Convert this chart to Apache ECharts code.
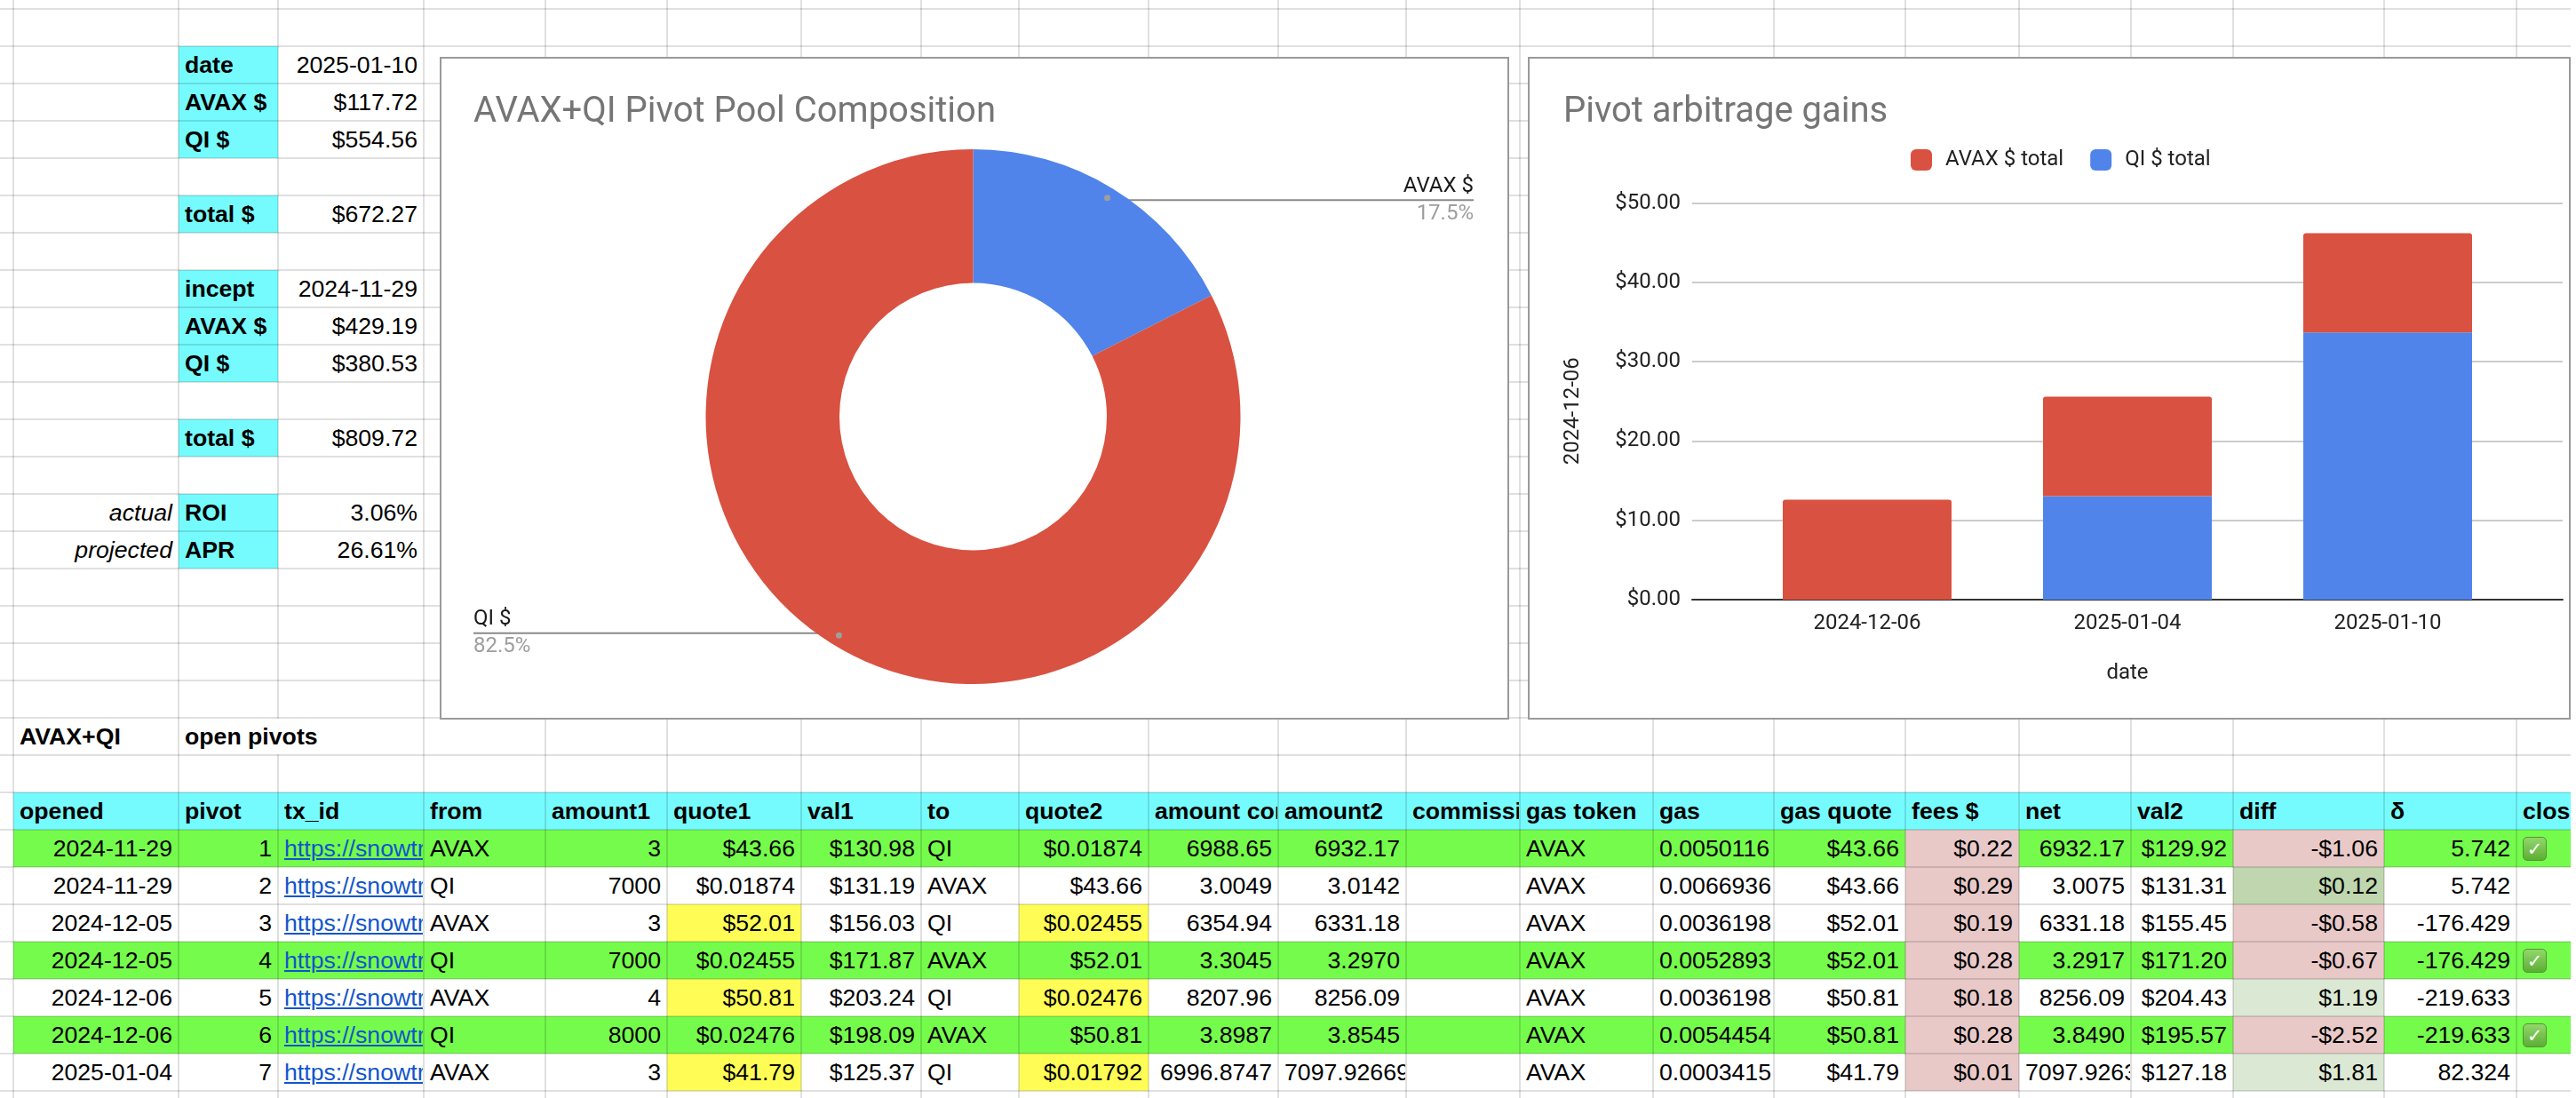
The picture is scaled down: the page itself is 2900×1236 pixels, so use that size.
<!DOCTYPE html>
<html>
<head>
<meta charset="utf-8">
<script src="https://cdn.jsdelivr.net/npm/echarts@6/dist/echarts.min.js"></script>
<style>
html,body{margin:0;padding:0;width:2900px;height:1236px;overflow:hidden;background:#fff;}
#sheet{position:absolute;left:0;top:0;width:2900px;height:1236px;font-family:Arial,"Liberation Sans",sans-serif;font-size:26.67px;color:#000;}
.fill{position:absolute;}
.hl{position:absolute;left:0;width:2900px;height:2px;background:rgba(0,0,0,0.12);}
.vl{position:absolute;top:0;width:2px;height:1236px;background:rgba(0,0,0,0.12);}
.cell{position:absolute;height:40px;line-height:41px;box-sizing:border-box;padding:0 6px;white-space:nowrap;overflow:hidden;}
.r{text-align:right;}
.b{font-weight:bold;}
.i{font-style:italic;}
.lnk{color:#1155cc;text-decoration:underline;}
.chk{position:absolute;width:27px;height:27px;box-sizing:border-box;border-radius:5px;border:1px solid #4c9a2a;background:linear-gradient(#93d66c,#5cae35);color:#fff;font-family:"DejaVu Sans",sans-serif;font-size:21px;line-height:26px;text-align:center;font-weight:bold;}
.chart{position:absolute;background:#fff;}
.frame{position:absolute;box-sizing:border-box;border:2px solid #9a9a9a;pointer-events:none;}
#edge{position:absolute;left:2894px;top:0;width:6px;height:1236px;background:#fff;}
</style>
</head>
<body>
<div id="sheet"></div>
<div id="edge"></div>
<div id="pie" class="chart" style="left:495px;top:64px;width:1204px;height:746px;"></div>
<div class="frame" style="left:495px;top:64px;width:1204px;height:746px;"></div>
<div id="bar" class="chart" style="left:1720px;top:64px;width:1174px;height:746px;"></div>
<div class="frame" style="left:1720px;top:64px;width:1174px;height:746px;"></div>
<script>
// ---------------- chart data ----------------
const POOL_NAMES = ['AVAX $', 'QI $'];
const POOL_VALUES = [117.72, 554.56];

const GAIN_DATES = ['2024-12-06', '2025-01-04', '2025-01-10'];
const AVAX_TOTAL = [12.60, 12.56, 12.53];
const QI_TOTAL = [0, 13.04, 33.67];
const GAIN_SERIES = ['AVAX $ total', 'QI $ total'];

// ---------------- sheet data ----------------
const SUMMARY_LABELS = ['date', 'AVAX $', 'QI $', 'total $', 'incept', 'AVAX $', 'QI $', 'total $', 'ROI', 'APR'];
const SUMMARY_VALUES = ['2025-01-10', '$117.72', '$554.56', '$672.27', '2024-11-29', '$429.19', '$380.53', '$809.72', '3.06%', '26.61%'];
const SUMMARY_ROWS = [1, 2, 3, 5, 7, 8, 9, 11, 13, 14];
const SUMMARY_NOTES = {13: 'actual', 14: 'projected'};

const HEADERS = ['opened', 'pivot', 'tx_id', 'from', 'amount1', 'quote1', 'val1', 'to', 'quote2', 'amount converted', 'amount2', 'commission', 'gas token', 'gas', 'gas quote', 'fees $', 'net', 'val2', 'diff', 'δ', 'closed'];
const OPENED = ['2024-11-29', '2024-11-29', '2024-12-05', '2024-12-05', '2024-12-06', '2024-12-06', '2025-01-04'];
const PIVOT = ['1', '2', '3', '4', '5', '6', '7'];
const TX_ID = ['https://snowtrace.io/tx/', 'https://snowtrace.io/tx/', 'https://snowtrace.io/tx/', 'https://snowtrace.io/tx/', 'https://snowtrace.io/tx/', 'https://snowtrace.io/tx/', 'https://snowtrace.io/tx/'];
const FROM = ['AVAX', 'QI', 'AVAX', 'QI', 'AVAX', 'QI', 'AVAX'];
const AMOUNT1 = ['3', '7000', '3', '7000', '4', '8000', '3'];
const QUOTE1 = ['$43.66', '$0.01874', '$52.01', '$0.02455', '$50.81', '$0.02476', '$41.79'];
const VAL1 = ['$130.98', '$131.19', '$156.03', '$171.87', '$203.24', '$198.09', '$125.37'];
const TO = ['QI', 'AVAX', 'QI', 'AVAX', 'QI', 'AVAX', 'QI'];
const QUOTE2 = ['$0.01874', '$43.66', '$0.02455', '$52.01', '$0.02476', '$50.81', '$0.01792'];
const AMOUNT_CONV = ['6988.65', '3.0049', '6354.94', '3.3045', '8207.96', '3.8987', '6996.8747'];
const AMOUNT2 = ['6932.17', '3.0142', '6331.18', '3.2970', '8256.09', '3.8545', '7097.92669'];
const COMMISSION = ['', '', '', '', '', '', ''];
const GAS_TOKEN = ['AVAX', 'AVAX', 'AVAX', 'AVAX', 'AVAX', 'AVAX', 'AVAX'];
const GAS = ['0.0050116', '0.0066936', '0.0036198', '0.0052893', '0.0036198', '0.0054454', '0.0003415'];
const GAS_QUOTE = ['$43.66', '$43.66', '$52.01', '$52.01', '$50.81', '$50.81', '$41.79'];
const FEES = ['$0.22', '$0.29', '$0.19', '$0.28', '$0.18', '$0.28', '$0.01'];
const NET = ['6932.17', '3.0075', '6331.18', '3.2917', '8256.09', '3.8490', '7097.92631'];
const VAL2 = ['$129.92', '$131.31', '$155.45', '$171.20', '$204.43', '$195.57', '$127.18'];
const DIFF = ['-$1.06', '$0.12', '-$0.58', '-$0.67', '$1.19', '-$2.52', '$1.81'];
const DELTA = ['5.742', '5.742', '-176.429', '-176.429', '-219.633', '-219.633', '82.324'];
const CLOSED = [true, false, false, true, false, true, false];
const QUOTE_HIGHLIGHT = [false, false, true, false, true, false, true];
const DIFF_TONE = ['neg', 'pos2', 'neg', 'neg', 'pos', 'neg', 'pos'];

// ---------------- sheet layout / style ----------------
const COLX = [15, 201, 313, 477, 614, 751, 902, 1037, 1147, 1293, 1439, 1583, 1711, 1861, 1997, 2145, 2273, 2399, 2514, 2684, 2833, 2980];
const ROW0 = 10, ROWH = 42, NROWS = 30;
const CYAN = '#75fbfd', GREEN = '#75fb4c', YELLOW = '#fffd55', PINK = '#e8c9c8', LGREEN = '#dbe8d4', DGREEN = '#bfd6ae';
const rowY = k => ROW0 + ROWH * k;

const sheet = document.getElementById('sheet');
function add(cls, style, html) {
  const d = document.createElement('div');
  d.className = cls;
  Object.assign(d.style, style);
  if (html !== undefined) d.innerHTML = html;
  sheet.appendChild(d);
  return d;
}
function fill(c0, c1, k, color) {
  add('fill', {left: COLX[c0] + 'px', width: (COLX[c1] - COLX[c0]) + 'px', top: rowY(k) + 'px', height: ROWH + 'px', background: color});
}
const textLayer = [];
function text(c0, c1, k, str, cls) {
  textLayer.push([c0, c1, k, str, cls || '']);
}
function esc(s) { return String(s).replace(/&/g, '&amp;').replace(/</g, '&lt;'); }

// summary block
SUMMARY_ROWS.forEach((k, i) => {
  fill(1, 2, k, CYAN);
  text(1, 2, k, esc(SUMMARY_LABELS[i]), 'b');
  text(2, 3, k, esc(SUMMARY_VALUES[i]), 'r');
  if (SUMMARY_NOTES[k]) text(0, 1, k, SUMMARY_NOTES[k], 'r i');
});

// title row
text(0, 1, 19, 'AVAX+QI', 'b');
text(1, 3, 19, 'open pivots', 'b');

// header
const HK = 21;
fill(0, 21, HK, CYAN);
HEADERS.forEach((h, c) => text(c, c + 1, HK, esc(h), 'b'));

// data rows
const COLS = [OPENED, PIVOT, TX_ID, FROM, AMOUNT1, QUOTE1, VAL1, TO, QUOTE2, AMOUNT_CONV, AMOUNT2, COMMISSION, GAS_TOKEN, GAS, GAS_QUOTE, FEES, NET, VAL2, DIFF, DELTA];
const ALIGN = ['r', 'r', 'lnk', '', 'r', 'r', 'r', '', 'r', 'r', 'r', '', '', 'r', 'r', 'r', 'r', 'r', 'r', 'r'];
OPENED.forEach((_, i) => {
  const k = HK + 1 + i;
  if (CLOSED[i]) fill(0, 21, k, GREEN);
  if (QUOTE_HIGHLIGHT[i]) { fill(5, 6, k, YELLOW); fill(8, 9, k, YELLOW); }
  fill(15, 16, k, PINK);
  fill(18, 19, k, DIFF_TONE[i] === 'neg' ? PINK : (DIFF_TONE[i] === 'pos2' ? DGREEN : LGREEN));
  COLS.forEach((col, c) => {
    if (col[i] === '') return;
    text(c, c + 1, k, esc(col[i]), ALIGN[c]);
  });
});

// gridlines
for (let k = 0; k < NROWS; k++) add('hl', {top: (rowY(k) - 1) + 'px'});
COLX.forEach(x => add('vl', {left: (x - 1) + 'px'}));

// text layer (above gridlines)
textLayer.forEach(([c0, c1, k, str, cls]) => {
  const st = {left: (COLX[c0] + 1) + 'px', width: (COLX[c1] - COLX[c0] - 2) + 'px', top: (rowY(k) + 1) + 'px'};
  if (c1 - c0 > 1) st.background = '#fff';
  const inner = cls.indexOf('lnk') >= 0 ? '<span class="lnk">' + str + '</span>' : str;
  add('cell ' + cls.replace('lnk', ''), st, inner);
});
// check marks
CLOSED.forEach((v, i) => {
  if (v) add('chk', {left: '2840px', top: (rowY(HK + 1 + i) + 8) + 'px'}, '✓');
});

// ---------------- charts ----------------
const RED = '#d95140', BLUE = '#5084ea';
const FONT = 'Roboto';

const pie = echarts.init(document.getElementById('pie'));
const PIE_CENTER = [600.5, 405];
const PIE_RADIUS = [150.5, 301];
const LABEL_EDGE = [38, 40];
pie.setOption({
  animation: false,
  backgroundColor: '#fff',
  title: {
    text: 'AVAX+QI Pivot Pool Composition', left: 38, top: 43, padding: 0,
    textStyle: {fontFamily: FONT, fontSize: 40, fontWeight: 'normal', color: '#757575'}
  },
  series: [{
    type: 'pie',
    center: PIE_CENTER,
    radius: PIE_RADIUS,
    startAngle: 90,
    clockwise: true,
    percentPrecision: 1,
    avoidLabelOverlap: false,
    emphasis: {disabled: true},
    itemStyle: {borderWidth: 0},
    data: POOL_NAMES.map((n, i) => ({name: n, value: POOL_VALUES[i], itemStyle: {color: [BLUE, RED][i]}})),
    label: {
      show: true, position: 'outside',
      formatter: '{n|{b}}\n{p|{d}%}',
      rich: {
        n: {fontFamily: FONT, fontSize: 24, color: '#1a1a1a', lineHeight: 31},
        p: {fontFamily: FONT, fontSize: 24, color: '#9e9e9e', lineHeight: 31}
      }
    },
    labelLine: {show: true, length: 10, length2: 10, smooth: false, lineStyle: {color: '#8a8a8a', width: 2}},
    labelLayout: function (params) {
      const pts = params.labelLinePoints;
      if (!pts) return {};
      const p0 = pts[0];
      const sx = PIE_CENTER[0] + (p0[0] - PIE_CENTER[0]) * 0.95;
      const sy = PIE_CENTER[1] + (p0[1] - PIE_CENTER[1]) * 0.95;
      const isLeft = sx < PIE_CENTER[0];
      const ex = isLeft ? LABEL_EDGE[0] : pie.getWidth() - LABEL_EDGE[1];
      return {
        x: ex, y: sy, align: isLeft ? 'left' : 'right', verticalAlign: 'middle',
        labelLinePoints: [[sx, sy], [sx, sy], [ex, sy]]
      };
    }
  }, {
    type: 'pie',
    center: PIE_CENTER,
    radius: [PIE_RADIUS[1] * 0.9, PIE_RADIUS[1]],
    startAngle: 90,
    clockwise: true,
    silent: true,
    z: 5,
    emphasis: {disabled: true},
    itemStyle: {color: 'rgba(0,0,0,0)', borderWidth: 0},
    data: POOL_NAMES.map((n, i) => ({name: n, value: POOL_VALUES[i]})),
    label: {
      show: true, position: 'inside', formatter: '{dot| }',
      rich: {dot: {width: 7, height: 7, borderRadius: 3.5, backgroundColor: '#9e9e9e', lineHeight: 7, fontSize: 1}}
    },
    labelLine: {show: false}
  }]
});

const bar = echarts.init(document.getElementById('bar'));
const AXIS_TEXT = {fontFamily: FONT, fontSize: 24, color: '#222'};
bar.setOption({
  animation: false,
  backgroundColor: '#fff',
  title: {
    text: 'Pivot arbitrage gains', left: 40, top: 43, padding: 0,
    textStyle: {fontFamily: FONT, fontSize: 40, fontWeight: 'normal', color: '#757575'}
  },
  legend: {
    data: GAIN_SERIES, left: 431, top: 104, padding: 0, itemWidth: 24, itemHeight: 24, itemGap: 30,
    icon: 'roundRect', selectedMode: false,
    textStyle: Object.assign({padding: [0, 0, 0, 10]}, AXIS_TEXT)
  },
  grid: [
    {left: 185, right: 9, top: 164.5, bottom: 135, outerBoundsMode: 'none'},
    {left: 235.5, right: 59.5, top: 164.5, bottom: 135, outerBoundsMode: 'none'}
  ],
  xAxis: [{
    gridIndex: 0, type: 'category', data: GAIN_DATES,
    axisLine: {show: true, lineStyle: {color: '#333', width: 2}},
    axisTick: {show: false}, axisLabel: {show: false}, splitLine: {show: false}
  }, {
    gridIndex: 1, type: 'category', data: GAIN_DATES,
    axisLine: {show: false}, axisTick: {show: false}, splitLine: {show: false},
    axisLabel: Object.assign({margin: 15}, AXIS_TEXT),
    name: 'date', nameLocation: 'middle', nameGap: 71, nameTextStyle: AXIS_TEXT
  }],
  yAxis: [{
    gridIndex: 0, type: 'value', min: 0, max: 50, interval: 10,
    axisLine: {show: false}, axisTick: {show: false},
    axisLabel: Object.assign({margin: 13, formatter: v => '$' + v.toFixed(2)}, AXIS_TEXT),
    splitLine: {show: true, lineStyle: {color: '#cccccc', width: 2}},
    name: '2024-12-06', nameLocation: 'middle', nameRotate: 90, nameGap: 122,
    nameTextStyle: Object.assign({padding: [0, 22, 0, 0]}, AXIS_TEXT)
  }, {
    gridIndex: 1, type: 'value', min: 0, max: 50, interval: 10, show: false, splitLine: {show: false}
  }],
  series: [{
    name: GAIN_SERIES[1], type: 'bar', stack: 'gain', xAxisIndex: 1, yAxisIndex: 1,
    data: QI_TOTAL, barWidth: 190, itemStyle: {color: BLUE}, emphasis: {disabled: true}
  }, {
    name: GAIN_SERIES[0], type: 'bar', stack: 'gain', xAxisIndex: 1, yAxisIndex: 1,
    data: AVAX_TOTAL, barWidth: 190, itemStyle: {color: RED, borderRadius: [3, 3, 0, 0]}, emphasis: {disabled: true}
  }],
  color: [BLUE, RED]
});
</script>
</body>
</html>
